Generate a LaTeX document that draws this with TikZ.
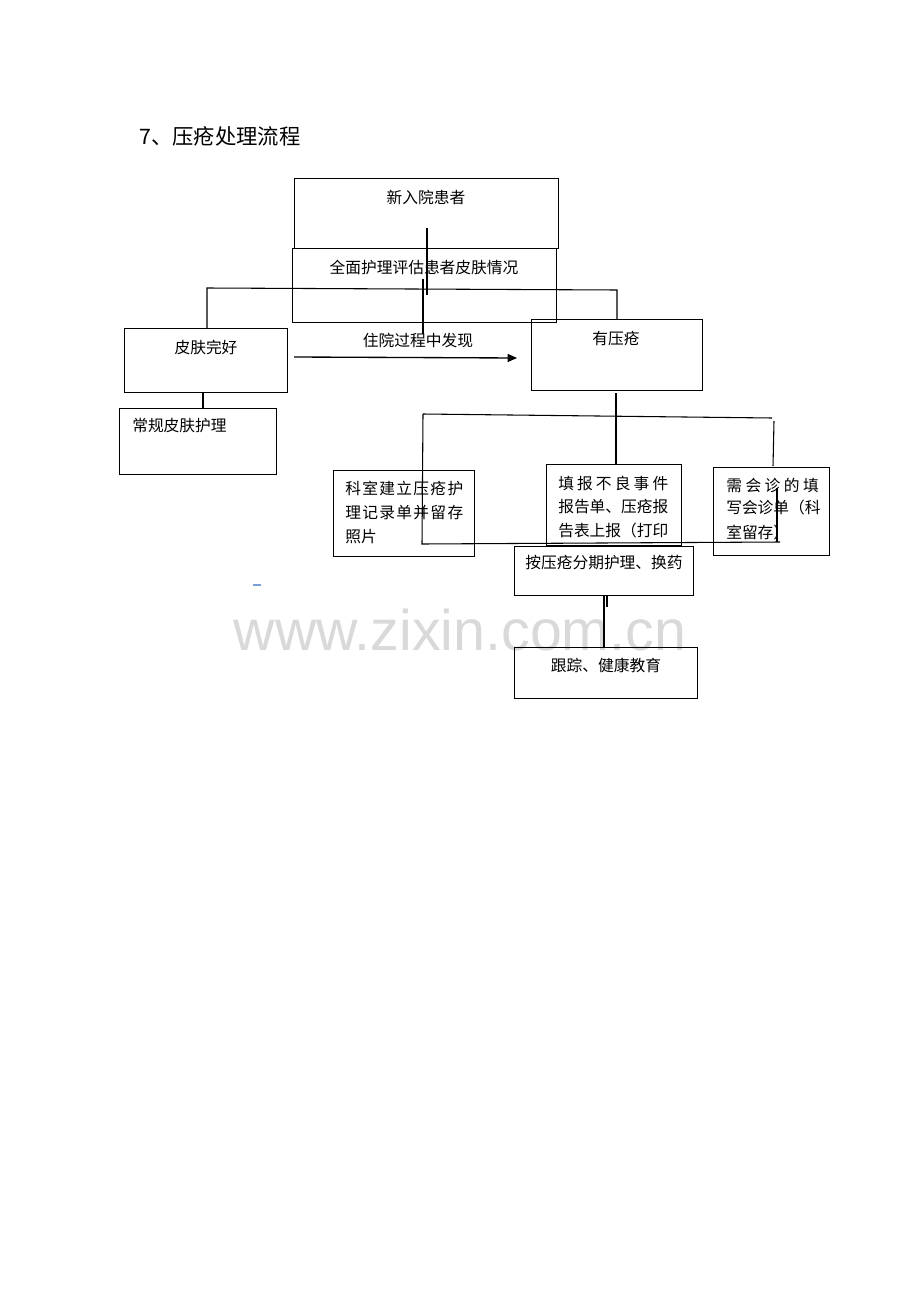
\documentclass[tikz,border=0pt]{standalone}
\usepackage{fontspec}
\setmainfont{Noto Sans CJK SC}
\newfontfamily\wmfont{Liberation Sans}
\usetikzlibrary{arrows.meta,fit}
\definecolor{wmgray}{HTML}{D9D9D9}
\definecolor{dashblue}{HTML}{7A9FD0}
\begin{document}
\begin{tikzpicture}[x=0.75pt,y=-0.75pt,
  box/.style={draw, line width=0.7pt, inner sep=0pt, fit={#1}},
  txt/.style={inner sep=0pt, font=\fontsize{11.8pt}{14pt}\selectfont},
  link/.style={line width=0.8pt},
  flow/.style={line width=1pt, -{Triangle[length=7pt,width=6pt]}}]
\useasboundingbox (0,0) rectangle (920,1302);
% watermark
\node[inner sep=0pt, anchor=base, text depth=0pt, text=wmgray, font=\wmfont\fontsize{43pt}{45pt}\selectfont] (wm) at (460,650) {www.zixin.com.cn};
% title
\node[inner sep=0pt, anchor=west, font=\fontsize{16pt}{18pt}\selectfont] (title) at (139,136) {7、压疮处理流程};
% boxes
\node[box={(294,178)(558,248)}] (newbox) {};
\node[txt] (newt) at (426,197) {新入院患者};
\node[box={(292,248)(556,322)}] (assess) {};
\node[txt] (assesst) at (424,267) {全面护理评估患者皮肤情况};
\node[box={(124,328)(287,392)}] (good) {};
\node[txt] (goodt) at (206,347) {皮肤完好};
\node[box={(531,319)(702,390)}] (sore) {};
\node[txt] (soret) at (616,339) {有压疮};
\node[box={(119,408)(276,474)}] (routine) {};
\node[txt, anchor=west] (routinet) at (132,426) {常规皮肤护理};
\node[box={(333,470)(474,556)}] (record) {};
\node[txt, anchor=west] (recordA) at (345,488) {\hbox to 88.5pt{科\hfill 室\hfill 建\hfill 立\hfill 压\hfill 疮\hfill 护}};
\node[txt, anchor=west] (recordB) at (345,513) {\hbox to 88.5pt{理\hfill 记\hfill 录\hfill 单\hfill 并\hfill 留\hfill 存}};
\node[txt, anchor=west] (recordC) at (345,537) {照片};
\node[box={(546,464)(681,545)}] (report) {};
\node[txt, anchor=west] (reportA) at (558,483) {\hbox to 82.5pt{填\hfill 报\hfill 不\hfill 良\hfill 事\hfill 件}};
\node[txt, anchor=west] (reportB) at (558,507) {\hbox to 82.5pt{报\hfill 告\hfill 单\hfill 、\hfill 压\hfill 疮\hfill 报}};
\node[txt, anchor=west] (reportC) at (558,531) {\hbox to 82.5pt{告\hfill 表\hfill 上\hfill 报\hfill （\hfill 打\hfill 印}};
\node[box={(713,467)(829,555)}] (consult) {};
\node[txt, anchor=west] (consultA) at (726,485) {\hbox to 69.5pt{需\hfill 会\hfill 诊\hfill 的\hfill 填}};
\node[txt, anchor=west] (consultB) at (726,508) {\hbox to 69.5pt{写\hfill 会\hfill 诊\hfill 单\hfill （\hfill 科}};
\node[txt, anchor=west] (consultC) at (726,533) {室留存）};
\node[box={(514,546)(693,595)}] (stage) {};
\node[txt] (staget) at (604,563) {按压疮分期护理、换药};
\node[box={(514,647)(697,698)}] (follow) {};
\node[txt] (followt) at (606,665) {跟踪、健康教育};
% connector points
\coordinate (c1a) at (427,228); \coordinate (c1b) at (427,295);
\coordinate (c2a) at (423,279); \coordinate (c2b) at (423,334);
\coordinate (hL) at (207,288); \coordinate (hR) at (617,290);
\coordinate (goodTop) at (207,328); \coordinate (soreTop) at (617,319);
\coordinate (g1) at (203,392); \coordinate (g2) at (203,408);
\coordinate (s1) at (616,393); \coordinate (s2) at (616,464);
\coordinate (h2L) at (423,414); \coordinate (h2R) at (772,418);
\coordinate (v3a) at (774,421); \coordinate (v3b) at (773,466);
\coordinate (vL) at (422,544);
\coordinate (h3R) at (780,542);
\coordinate (vin) at (777,488);
\coordinate (st1) at (604,595); \coordinate (st2) at (604,647);
\coordinate (dd1) at (607,596); \coordinate (dd2) at (607,607);
\coordinate (arA) at (294,357); \coordinate (arB) at (517,358);
% connectors
\draw[link] (c1a) -- (c1b);
\draw[link] (c2a) -- (c2b);
\draw[link] (goodTop) -- (hL) -- (hR) -- (soreTop);
\draw[link] (g1) -- (g2);
\draw[link] (s1) -- (s2);
\draw[link] (h2L) -- (h2R);
\draw[link] (v3a) -- (v3b);
\draw[link] (h2L) -- (vL) -- (h3R);
\draw[link] (vin) -- (vin |- h3R);
\draw[link] (st1) -- (st2);
\draw[link] (dd1) -- (dd2);
\draw[flow] (arA) -- (arB);
\node[txt] (arlabel) at (418,340) {住院过程中发现};
% small blue mark
\coordinate (bm1) at (253,585); \coordinate (bm2) at (261,585);
\draw[dashblue, line width=1pt] (bm1) -- (bm2);
\end{tikzpicture}
\end{document}
